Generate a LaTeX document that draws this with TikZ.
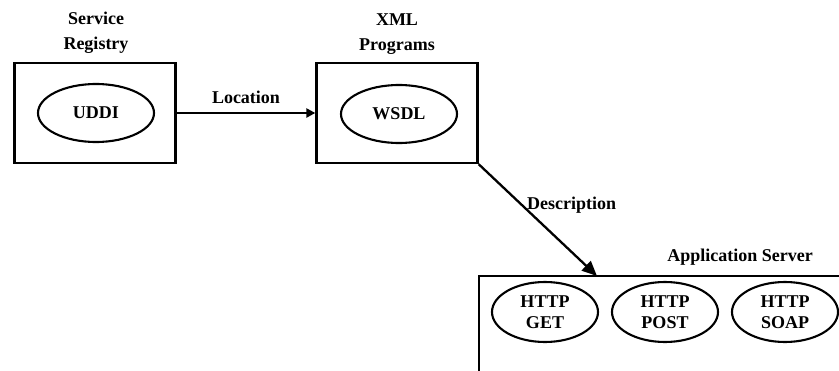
\documentclass[tikz,border=0pt]{standalone}
\usepackage{fontspec}
\setmainfont{Liberation Serif}
\usetikzlibrary{arrows.meta,shapes.geometric}
\begin{document}
\begin{tikzpicture}[x=1pt,y=-1pt,
  box/.style={draw,line width=2.3pt,minimum width=161pt,minimum height=100pt,inner sep=0pt},
  oval/.style={draw,ellipse,line width=2.1pt,minimum width=116pt,minimum height=58pt,inner sep=0pt,font=\fontsize{18}{21}\bfseries},
  httpoval/.style={oval,minimum width=106pt,minimum height=60pt,align=center},
  lbl/.style={font=\fontsize{18}{25}\bfseries,align=center,inner sep=0pt},
  conn/.style={line width=2.3pt}]
\useasboundingbox (0,0) rectangle (839,370);
\clip (0,0) rectangle (839,370);

% service registry
\node[box] (reg) at (95,113) {};
\node[oval] (uddi) at (96,113) {UDDI};
\node[lbl] (regl) at (96,33) {Service\\Registry};

% xml programs
\node[box] (xml) at (397,113) {};
\node[oval] (wsdl) at (399,114) {WSDL};
\node[lbl] (xmll) at (397,34) {XML\\Programs};

% application server
\node[box,minimum width=372pt,minimum height=110pt,anchor=north west] (app) at (478,275) {};
\node[lbl,anchor=base] (appl) at (740,261) {Application Server};
\node[httpoval] (get) at (545,312) {HTTP\\GET};
\node[httpoval] (post) at (665,312) {HTTP\\POST};
\node[httpoval] (soap) at (785,312) {HTTP\\SOAP};

% connectors
\draw[conn,-{Triangle[length=9pt,width=9pt]}] (reg.east) -- node[lbl,above=8pt] (locl) {Location} (xml.west);
\coordinate (dtip) at (597,276);
\draw[conn,-{Triangle[length=15pt,width=13pt]}] (xml.south east) -- (dtip);
\node[lbl,anchor=base west] (descl) at (527,209) {Description};
\end{tikzpicture}
\end{document}
